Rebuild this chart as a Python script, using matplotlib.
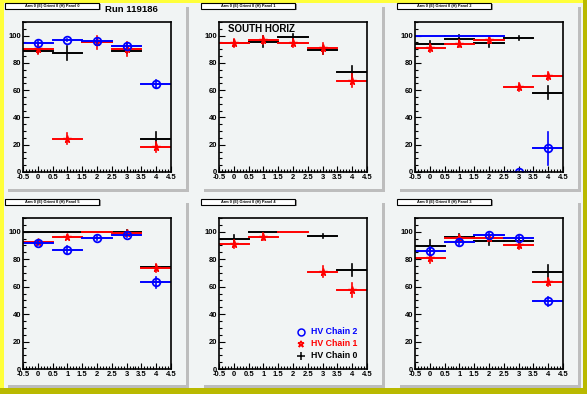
import matplotlib.pyplot as plt
from matplotlib.patches import Rectangle
from matplotlib.ticker import MultipleLocator

plt.rcParams['font.family'] = ['Liberation Sans', 'DejaVu Sans']

# bin centres and panel titles
bins = [0, 1, 2, 3, 4]
titles = ["Arm 0 (E) Orient 0 (H) Panel 0", "Arm 0 (E) Orient 0 (H) Panel 1",
          "Arm 0 (E) Orient 0 (H) Panel 2", "Arm 0 (E) Orient 0 (H) Panel 5",
          "Arm 0 (E) Orient 0 (H) Panel 4", "Arm 0 (E) Orient 0 (H) Panel 3"]

# efficiency per panel (None = chain not shown in that panel)
chain0_vals = [[89.1, 87.4, 95.6, 89.1, 24.0],
               [94.7, 95.4, 99.0, 89.6, 73.5],
               [94.0, 97.6, 94.7, 98.3, 58.3],
               [100, 100, 100, 99.8, 74.0],
               [94.9, 100, None, 96.8, 72.0],
               [89.8, 96.3, 93.2, 93.2, 70.7]]
chain0_errs = [[2, 5, 1.5, 2, 5],
               [2, 4, 2.5, 3, 4.5],
               [2, 3, 3, 1.5, 5],
               [0, 0, 0, 1.5, 2],
               [3, 0, 0, 1.5, 4.5],
               [4.5, 2, 3, 2, 5]]
chain1_vals = [[90.3, 24.3, 95.1, 90.3, 18.4],
               [94.7, 96.8, 94.7, 90.8, 67.0],
               [91.0, 94.0, 96.8, 62.6, 70.6],
               [92.4, 96.3, 100, 99.3, 73.7],
               [91.2, 96.3, 100, 70.7, 57.6],
               [81.0, 95.6, 95.6, 90.2, 63.4]]
chain1_errs = [[4, 4, 5, 5, 3.5],
               [3, 3, 3, 4, 5],
               [3, 2.5, 2, 3, 3],
               [1, 1.5, 0, 1.5, 3],
               [3, 2.5, 0, 4, 5],
               [3.5, 2, 2, 3, 3]]
chain2_vals = [[94.7, 96.8, 95.9, 92.7, 64.8],
               None,
               [100, 100, 100, 0, 17.5],
               [92.0, 86.8, 95.6, 97.8, 63.2],
               None,
               [85.9, 92.4, 97.6, 95.6, 49.3]]
chain2_errs = [[1.5, 1, 1.5, 2, 3],
               None,
               [0, 0, 0, 1, 12],
               [2, 3, 1.5, 1.5, 4],
               None,
               [3, 2, 1.5, 1.5, 3.5]]

chains = [("HV Chain 0", "black", None, chain0_vals, chain0_errs),
          ("HV Chain 1", "red", "*", chain1_vals, chain1_errs),
          ("HV Chain 2", "blue", "o", chain2_vals, chain2_errs)]

W, H = 587, 394
BG = "#f1f4f4"


def frect(x, y, w, h):
    return [x / W, 1 - (y + h) / H, w / W, h / H]


def box(fig, x, y, w, h, z=-5, **kw):
    fig.add_artist(Rectangle(frect(x, y, w, h)[:2], w / W, h / H,
                             transform=fig.transFigure, zorder=z, **kw))


fig = plt.figure(figsize=(W / 100, H / 100), dpi=100)
fig.patch.set_facecolor(BG)

# canvas border
box(fig, 0, 0, 4, H, facecolor="#ffff3a", edgecolor="none")
box(fig, 0, 0, W, 3, facecolor="#ffff3a", edgecolor="none")
box(fig, W - 4, 0, 4, H, facecolor="#b9b900", edgecolor="none")
box(fig, 0, H - 6, W, 6, facecolor="#b9b900", edgecolor="none")

pad_x = [5, 201, 397]
pad_y = [4, 200]
ax_x = [23, 219, 415]
ax_y = [22, 218]

for i in range(6):
    r, c = divmod(i, 3)
    px, py = pad_x[c], pad_y[r]
    # pad with shadow
    box(fig, px + 3, py + 3, 181, 185, facecolor="#bdbdbd", edgecolor="none")
    box(fig, px, py, 181, 185, facecolor=BG, edgecolor="none")
    # title box
    box(fig, px + 2, py, 94, 6, z=2, facecolor="#9a9a9a", edgecolor="none")
    box(fig, px, py - 1, 94, 6, z=3, facecolor="white", edgecolor="black", linewidth=0.8)
    fig.text((px + 47) / W, 1 - (py + 2) / H, titles[i], fontsize=2.8,
             fontweight="bold", ha="center", va="center", zorder=4)

    ax = fig.add_axes(frect(ax_x[c], ax_y[r], 148, 150 if r == 0 else 151))
    ax.set_facecolor(BG)
    ax.set_xlim(-0.5, 4.5)
    ax.set_ylim(0, 110)

    for label, color, marker, vals, errs in chains:
        if vals[i] is None:
            continue
        for x, v, e in zip(bins, vals[i], errs[i]):
            if v is None:
                continue
            ax.plot([x - 0.5, x + 0.5], [v, v], color=color, lw=1.4)
            if e > 0:
                ax.plot([x, x], [v - e, v + e], color=color, lw=1.2)
                if marker:
                    ax.plot(x, v, marker=marker, color=color, mfc="none",
                            ms=5.5 if marker == "o" else 5.5,
                            mew=1.3 if marker == "o" else 1.0)

    ax.xaxis.set_minor_locator(MultipleLocator(0.1))
    ax.yaxis.set_major_locator(MultipleLocator(20))
    ax.yaxis.set_minor_locator(MultipleLocator(5))
    ax.set_xticks([-0.5, 0, 0.5, 1, 1.5, 2, 2.5, 3, 3.5, 4, 4.5])
    ax.set_xticklabels(["-0.5", "0", "0.5", "1", "1.5", "2", "2.5", "3", "3.5", "4", "4.5"])
    ax.tick_params(which="both", direction="in", top=False, right=False,
                   labelsize=5.5, pad=1.5, width=0.8)
    ax.tick_params(which="major", length=4)
    ax.tick_params(which="minor", length=2)
    for t in ax.get_xticklabels() + ax.get_yticklabels():
        t.set_fontweight("bold")
    for s in ax.spines.values():
        s.set_linewidth(1.2)

    if i == 0:
        fig.text(105 / W, 1 - 9 / H, "Run 119186", fontsize=6.8,
                 fontweight="bold", va="center")
    if i == 1:
        ax.text(0.06, 0.955, "SOUTH HORIZ", transform=ax.transAxes,
                fontsize=7, fontweight="bold", va="center")
    if i == 4:
        leg = [("HV Chain 2", "blue", "o"), ("HV Chain 1", "red", "*"),
               ("HV Chain 0", "black", "+")]
        for k, (label, color, marker) in enumerate(leg):
            yy = 27 - k * 8.7
            ax.plot(2.27, yy, marker=marker, color=color, mfc="none",
                    ms=5 if marker != "+" else 6, mew=1.1)
            ax.text(2.6, yy, label, color=color, fontsize=6.3,
                    fontweight="bold", va="center")

fig.savefig("out.png", dpi=100, facecolor=fig.get_facecolor())
